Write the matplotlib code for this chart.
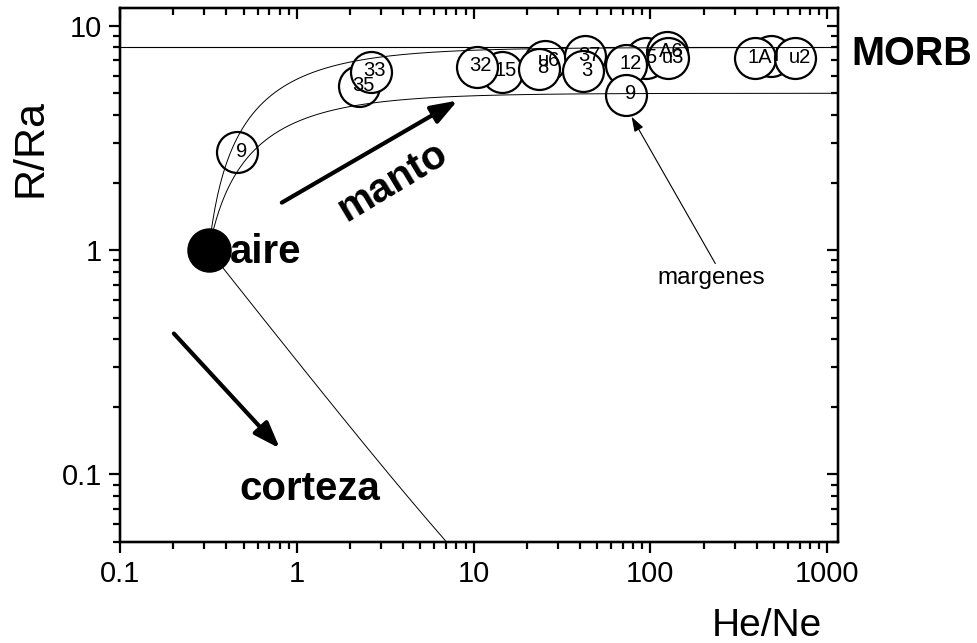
import numpy as np
import matplotlib
matplotlib.use("Agg")
import matplotlib.pyplot as plt
from matplotlib.ticker import FixedLocator, FixedFormatter, LogLocator, NullFormatter

plt.rcParams["font.family"] = ["Liberation Sans", "DejaVu Sans"]

# --- samples (He/Ne, R/Ra) in drawing order -------------------------------
sample_labels = ["9", "35", "33", "15", "32", "u6", "8", "37", "3",
                 "5", "12", "9", "A6", "u3", "I", "1A", "u2"]
he_ne = [0.461, 2.26, 2.62, 14.4, 10.4, 25.2, 23.3, 42.9, 41.3,
         94.9, 73.1, 73.1, 124.8, 126.4, 483.0, 392.0, 659.0]
r_ra = [2.73, 5.40, 6.25, 6.24, 6.57, 6.98, 6.44, 7.35, 6.30,
        7.20, 6.71, 4.93, 7.66, 7.20, 7.35, 7.20, 7.20]

# --- end-members -----------------------------------------------------------
air_he_ne = 0.318
air_r_ra = 1.0
morb_r_ra = 8.0
margin_r_ra = 5.0
crust_r_ra = 0.005

# --- axes ticks --------------------------------------------------------------
x_ticks = [0.1, 1, 10, 100, 1000]
x_tick_labels = ["0.1", "1", "10", "100", "1000"]
y_ticks = [0.1, 1, 10]
y_tick_labels = ["0.1", "1", "10"]
x_range = (0.1, 1150)
y_range = (0.05, 12)


def mixing(x, r_end):
    """Binary air / end-member mixing line in He/Ne vs R/Ra space."""
    return r_end + (air_r_ra - r_end) * air_he_ne / x


fig = plt.figure(figsize=(9.77, 6.43), dpi=100)
ax = fig.add_axes([0.1228, 0.1571, 0.7349, 0.8305])
ax.set_xscale("log")
ax.set_yscale("log")
ax.set_xlim(*x_range)
ax.set_ylim(*y_range)

# MORB reference level
ax.axhline(morb_r_ra, color="black", lw=0.8, zorder=1)

# mixing curves
xs = np.logspace(np.log10(air_he_ne), np.log10(x_range[1]), 500)
ax.plot(xs, mixing(xs, morb_r_ra), color="black", lw=0.7, zorder=4)
ax.plot(xs, mixing(xs, margin_r_ra), color="black", lw=0.7, zorder=4)
ax.plot(xs, mixing(xs, crust_r_ra), color="black", lw=0.7, zorder=4)

# samples: open circles
for i, (x, y) in enumerate(zip(he_ne, r_ra)):
    ax.plot(x, y, "o", ms=29.5, mfc="white", mec="black", mew=1.6,
            zorder=3 + i * 0.01)
for lbl, x, y in zip(sample_labels, he_ne, r_ra):
    ax.annotate(lbl, (x, y), xytext=(3, 0.5), textcoords="offset points",
                ha="center", va="center", fontsize=14.5, zorder=6)

# air
ax.plot(air_he_ne, air_r_ra, "o", ms=31, color="black", zorder=5)

# annotations
bold = dict(fontsize=29, fontweight="bold")
ax.text(0.418, 0.88, "aire", ha="left", va="baseline", **bold)
ax.text(3.49, 2.02, "manto", ha="center", va="center", rotation=31,
        rotation_mode="anchor", **bold)
ax.text(0.476, 0.0766, "corteza", ha="left", va="baseline", **bold)
ax.text(1370, 6.71, "MORB", ha="left", va="baseline", clip_on=False,
        fontsize=28.5, fontweight="bold")
ax.text(109.5, 0.709, "margenes", ha="left", va="baseline", fontsize=17.5)

thick = dict(arrowstyle="-|>,head_length=1.0,head_width=0.36", lw=3,
             color="black", shrinkA=0, shrinkB=0, mutation_scale=16)
ax.annotate("", xy=(8.12, 4.64), xytext=(0.823, 1.628), arrowprops=thick)
ax.annotate("", xy=(0.802, 0.1306), xytext=(0.2018, 0.4246), arrowprops=thick)
ax.annotate("", xy=(78.2, 3.93), xytext=(232.8, 0.871),
            arrowprops=dict(arrowstyle="-|>,head_length=0.9,head_width=0.3",
                            lw=0.8, color="black", shrinkA=0, shrinkB=0,
                            mutation_scale=10))

# ticks and labels
ax.xaxis.set_major_locator(FixedLocator(x_ticks))
ax.xaxis.set_major_formatter(FixedFormatter(x_tick_labels))
ax.yaxis.set_major_locator(FixedLocator(y_ticks))
ax.yaxis.set_major_formatter(FixedFormatter(y_tick_labels))
for axis in (ax.xaxis, ax.yaxis):
    axis.set_minor_locator(LogLocator(base=10, subs=np.arange(2, 10)))
    axis.set_minor_formatter(NullFormatter())
ax.tick_params(which="major", direction="out", length=8, width=1.6,
               labelsize=21, pad=5)
ax.tick_params(which="minor", direction="out", length=5, width=1.6)
for s in ax.spines.values():
    s.set_linewidth(1.6)

ax.set_xlabel("He/Ne", fontsize=28)
ax.xaxis.set_label_coords(0.901, -0.123)
ax.set_ylabel("R/Ra", fontsize=31)
ax.yaxis.set_label_coords(-0.097, 0.738)

# inward ticks on the top and right edges
axt = ax.twiny()
axt.set_xscale("log")
axt.set_xlim(*x_range)
axt.xaxis.set_major_locator(FixedLocator(x_ticks))
axt.xaxis.set_minor_locator(LogLocator(base=10, subs=np.arange(2, 10)))
axt.xaxis.set_major_formatter(NullFormatter())
axt.xaxis.set_minor_formatter(NullFormatter())
axt.tick_params(which="major", direction="in", length=8, width=1.6)
axt.tick_params(which="minor", direction="in", length=5, width=1.6)

axr = ax.twinx()
axr.set_yscale("log")
axr.set_ylim(*y_range)
axr.yaxis.set_major_locator(FixedLocator(y_ticks))
axr.yaxis.set_minor_locator(LogLocator(base=10, subs=np.arange(2, 10)))
axr.yaxis.set_major_formatter(NullFormatter())
axr.yaxis.set_minor_formatter(NullFormatter())
axr.tick_params(which="major", direction="in", length=8, width=1.6)
axr.tick_params(which="minor", direction="in", length=5, width=1.6)
for a in (axt, axr):
    for s in a.spines.values():
        s.set_linewidth(1.6)

fig.savefig("out.png", dpi=100)
